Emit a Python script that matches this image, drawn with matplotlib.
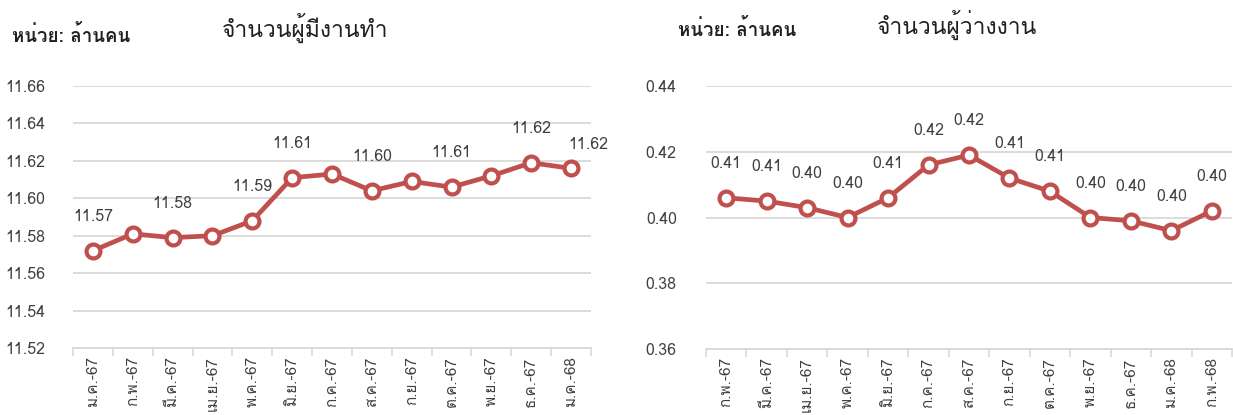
import matplotlib

matplotlib.use("Agg")
import matplotlib.pyplot as plt
import numpy as np
from matplotlib import font_manager
from matplotlib.ft2font import FT2Font

employed_months = ["ม.ค.-67", "ก.พ.-67", "มี.ค.-67", "เม.ย.-67", "พ.ค.-67", "มิ.ย.-67", "ก.ค.-67",
                   "ส.ค.-67", "ก.ย.-67", "ต.ค.-67", "พ.ย.-67", "ธ.ค.-67", "ม.ค.-68"]
employed = [11.572, 11.581, 11.579, 11.580, 11.588, 11.611, 11.613,
            11.604, 11.609, 11.606, 11.612, 11.619, 11.616]
employed_labelled = [0, 2, 4, 5, 7, 9, 11, 12]

unemployed_months = ["ก.พ.-67", "มี.ค.-67", "เม.ย.-67", "พ.ค.-67", "มิ.ย.-67", "ก.ค.-67", "ส.ค.-67",
                     "ก.ย.-67", "ต.ค.-67", "พ.ย.-67", "ธ.ค.-67", "ม.ค.-68", "ก.พ.-68"]
unemployed = [0.406, 0.405, 0.403, 0.400, 0.406, 0.416, 0.419,
              0.412, 0.408, 0.400, 0.399, 0.396, 0.402]

LINE = "#C0504D"
GRID = "#D9D9D9"
TEXT = "#404040"


def thai_family():
    # pick the first installed family that actually has Thai glyphs
    for entry in font_manager.fontManager.ttflist:
        try:
            if 0x0E08 in FT2Font(entry.fname).get_charmap():
                return entry.name
        except Exception:
            continue
    return None


family = thai_family()
plt.rcParams["font.family"] = [family, "DejaVu Sans"] if family else ["DejaVu Sans"]


def draw(ax, months, values, labelled, ylim, step, ypad):
    x = np.arange(len(values))
    ax.plot(x, values, color=LINE, lw=3.4, marker="o", ms=10, mfc="white", mec=LINE, mew=3, zorder=3)
    for i in labelled:
        dx, dy = (0, 34)
        if i == len(values) - 1 and len(labelled) < len(values):
            dx, dy = (17, 23)
        ax.annotate(f"{values[i]:.2f}", (x[i], values[i]), xytext=(dx, dy), textcoords="offset pixels",
                    ha="center", va="center", fontsize=11.5, color=TEXT)
    ax.set_xlim(-0.5, len(values) - 0.5)
    ax.set_ylim(*ylim)
    ax.set_yticks(np.arange(ylim[0], ylim[1] + step / 2, step))
    ax.yaxis.set_major_formatter(matplotlib.ticker.FormatStrFormatter("%.2f"))
    ax.set_xticks(x)
    ax.set_xticklabels(months, rotation=90, fontsize=11, color=TEXT)
    ax.set_xticks(np.arange(len(values) + 1) - 0.5, minor=True)
    ax.tick_params(axis="x", which="major", length=0, pad=6)
    ax.tick_params(axis="x", which="minor", length=6, color=GRID, width=1.2)
    ax.tick_params(axis="y", length=0, labelsize=11.5, labelcolor=TEXT, pad=ypad)
    ax.grid(axis="y", color=GRID, lw=1.3)
    ax.set_axisbelow(True)
    for side in ["top", "right", "left"]:
        ax.spines[side].set_visible(False)
    ax.spines["bottom"].set_color(GRID)
    ax.spines["bottom"].set_linewidth(1.3)


fig = plt.figure(figsize=(12.33, 4.15), dpi=100)
ax1 = fig.add_axes([0.0592, 0.1614, 0.4201, 0.6313])
ax2 = fig.add_axes([0.5726, 0.1590, 0.4266, 0.6337])

draw(ax1, employed_months, employed, employed_labelled, (11.52, 11.66), 0.02, 20)
draw(ax2, unemployed_months, unemployed, range(len(unemployed)), (0.36, 0.44), 0.02, 21)

fig.text(305 / 1233, 1 - 28 / 415, "จำนวนผู้มีงานทำ", ha="center", va="center", fontsize=16.5, color="#202020")
fig.text(957 / 1233, 1 - 25 / 415, "จำนวนผู้ว่างงาน", ha="center", va="center", fontsize=16.5, color="#202020")
fig.text(12 / 1233, 1 - 35 / 415, "หน่วย: ล้านคน", ha="left", va="center", fontsize=13.5, weight="bold", color="#202020")
fig.text(678 / 1233, 1 - 30 / 415, "หน่วย: ล้านคน", ha="left", va="center", fontsize=13.5, weight="bold", color="#202020")

fig.savefig("out.png", dpi=100)
